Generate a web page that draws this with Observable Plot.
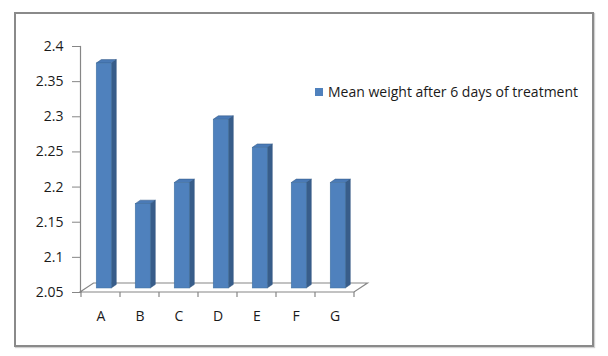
<!DOCTYPE html>
<html>
<head>
<meta charset="utf-8">
<script src="https://cdn.jsdelivr.net/npm/d3@7"></script>
<script src="https://cdn.jsdelivr.net/npm/@observablehq/plot@0.6"></script>
<style>
  body { margin: 0; background: #fff; }
  #wrap { position: relative; width: 608px; height: 356px; font-family: "Open Sans", sans-serif; }
  #wrap svg { position: absolute; left: 0; top: 0; }
  #frame { position: absolute; left: 14px; top: 12px; width: 576px; height: 331px; border: 2px solid #8a8a8a; box-shadow: 1px 1px 1px #d0d0d0; }
  #legend { position: absolute; left: 315px; top: 82px; font-size: 14px; color: #1a1a1a; white-space: nowrap; display: flex; align-items: center; }
  #legend .sw { width: 8px; height: 8px; background: #4F81BD; margin-right: 5px; }
</style>
</head>
<body>
<div id="wrap"><div id="frame"></div></div>
<script>
const categories = ["A", "B", "C", "D", "E", "F", "G"];
const values = [2.37, 2.17, 2.2, 2.29, 2.25, 2.2, 2.2];
const yTicks = [2.05, 2.1, 2.15, 2.2, 2.25, 2.3, 2.35, 2.4];
const yTickLabels = ["2.05", "2.1", "2.15", "2.2", "2.25", "2.3", "2.35", "2.4"];
const seriesName = "Mean weight after 6 days of treatment";
const baseValue = 2.05;

const rows = categories.map((c, i) => ({cat: c, value: values[i]}));

const front = "#4F81BD", side = "#385D8A", topC = "#4A7AB6", grid = "#868686";

// floor of the 3D plot + category ticks at band edges
const floor = Plot.barY([rows[0]], {
  x: "cat", y1: baseValue, y2: "value",
  render(index, scales, vals, dims) {
    const [r0, r1] = scales.x.range();
    const y0 = scales.y(baseValue);
    const g = d3.create("svg:g");
    const ddx = 13.5, ddy = 9;
    g.append("path")
      .attr("d", `M${r0},${y0}L${r0 + ddx},${y0 - ddy}L${r1 + ddx},${y0 - ddy}L${r1},${y0}Z`)
      .attr("fill", "#fff").attr("stroke", grid).attr("stroke-width", 1.2);
    const edges = categories.map(c => scales.x(c)).concat([r1]);
    for (const e of edges) {
      g.append("line").attr("x1", e).attr("x2", e).attr("y1", y0).attr("y2", y0 + 5)
        .attr("stroke", grid).attr("stroke-width", 1.2);
    }
    return g.node();
  }
});

const bars3d = Plot.barY(rows, {
  x: "cat", y1: baseValue, y2: "value",
  render(index, scales, vals, dims) {
    const bw = scales.x.bandwidth();
    const g = d3.create("svg:g");
    const L = bw * 0.39, W = bw * 0.385, dX = bw * 0.13, dY = 3.5, shiftY = 4;
    for (const i of index) {
      const x0 = vals.x[i] + L, x1 = x0 + W;
      const top = vals.y2[i] - shiftY, bot = vals.y1[i] - shiftY;
      g.append("path").attr("d", `M${x1},${top}L${x1 + dX},${top - dY}L${x1 + dX},${bot - dY}L${x1},${bot}Z`)
        .attr("fill", side).attr("stroke", "#2f5480").attr("stroke-width", 0.5);
      g.append("path").attr("d", `M${x0},${top}L${x0 + dX},${top - dY}L${x1 + dX},${top - dY}L${x1},${top}Z`)
        .attr("fill", topC).attr("stroke", "#2f5480").attr("stroke-width", 0.5);
      g.append("rect").attr("x", x0).attr("y", top).attr("width", W).attr("height", bot - top)
        .attr("fill", front).attr("stroke", "#41709f").attr("stroke-width", 0.5);
    }
    return g.node();
  }
});

const chart = Plot.plot({
  width: 608,
  height: 356,
  marginLeft: 80,
  marginRight: 254,
  marginTop: 46,
  marginBottom: 64,
  x: {type: "band", domain: categories, padding: 0, axis: null},
  y: {domain: [2.05, 2.4], axis: null},
  style: {fontFamily: "Open Sans", fontSize: "14px", color: "#1a1a1a", background: "transparent", overflow: "visible"},
  marks: [
    floor,
    Plot.frame({anchor: "left", stroke: grid, strokeWidth: 1.2}),
    Plot.axisY({ticks: yTicks, tickFormat: d => yTickLabels[yTicks.indexOf(d)], tickSize: 8, tickPadding: 9,
                stroke: grid, fill: "#1a1a1a", fontSize: 14, label: null}),
    Plot.axisX({tickSize: 0, tickPadding: 19, fill: "#1a1a1a", fontSize: 14, label: null}),
    bars3d
  ]
});

const wrap = document.getElementById("wrap");
wrap.appendChild(chart);
const legend = document.createElement("div");
legend.id = "legend";
legend.innerHTML = `<div class="sw"></div><span>${seriesName}</span>`;
wrap.appendChild(legend);
</script>
</body>
</html>
